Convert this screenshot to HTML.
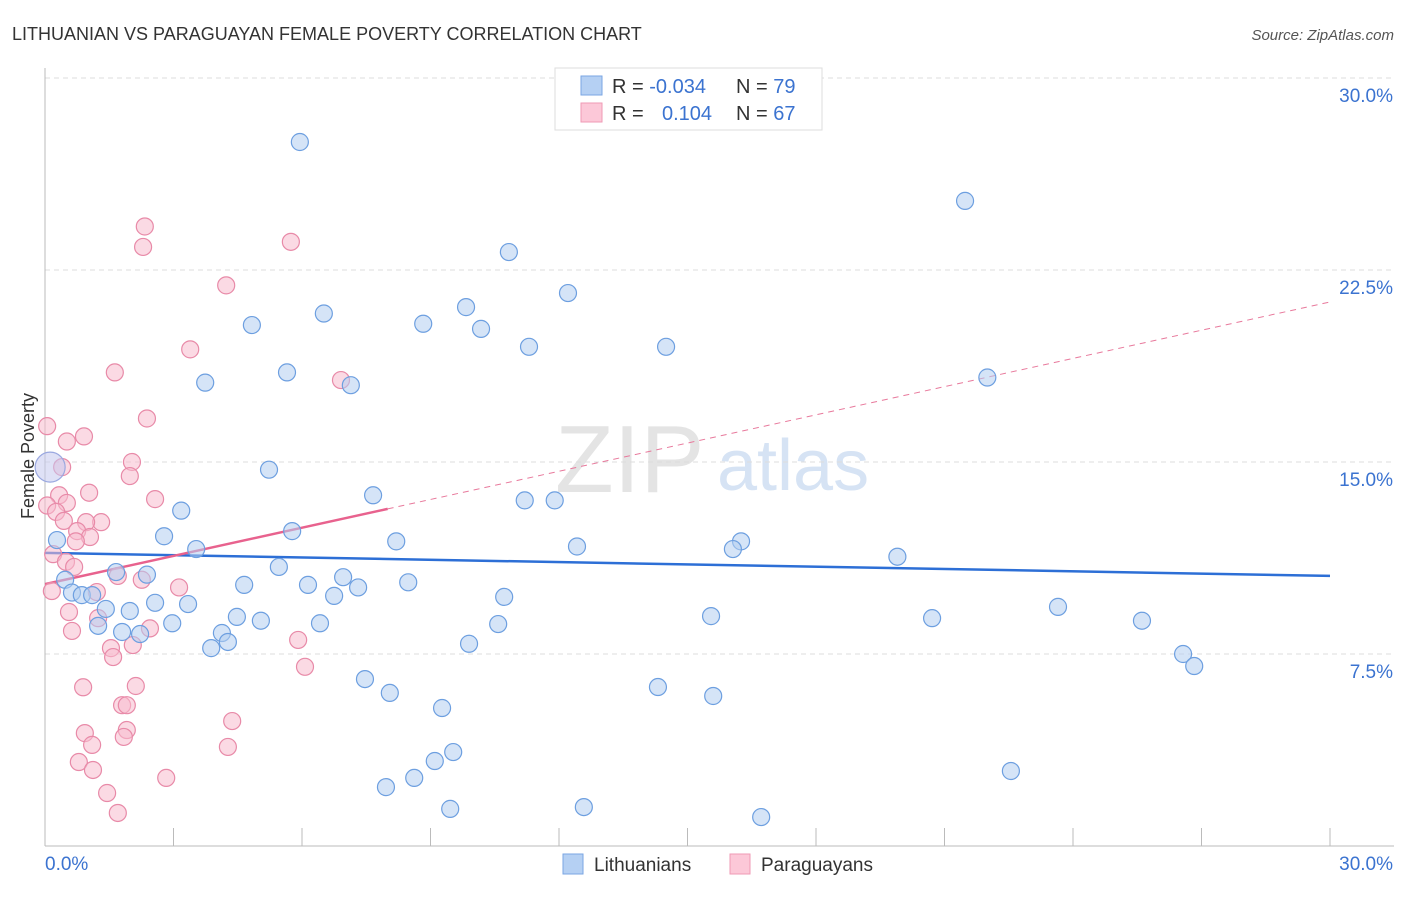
<!DOCTYPE html>
<html><head><meta charset="utf-8"><style>
body{margin:0;background:#fff;font-family:"Liberation Sans",sans-serif;}
svg text{font-family:"Liberation Sans",sans-serif;}
</style></head><body>
<svg id="chart" width="1406" height="892" xmlns="http://www.w3.org/2000/svg">
<text x="12" y="40" font-size="18" fill="#333">LITHUANIAN VS PARAGUAYAN FEMALE POVERTY CORRELATION CHART</text>
<text x="1394" y="40" font-size="15" fill="#555" font-style="italic" text-anchor="end">Source: ZipAtlas.com</text>
<g>
<text x="555" y="492" font-size="96" fill="#e4e4e4" font-family="Liberation Serif">ZIP</text>
<text x="717" y="490" font-size="72" fill="#d6e3f4">atlas</text>
</g>
<g id="grid"></g>
<g id="axes"></g>
<g id="trends"></g>
<g id="points"></g>
<text transform="translate(34,456) rotate(-90)" font-size="18" fill="#333" text-anchor="middle">Female Poverty</text>
<g>
<rect x="555" y="68" width="267" height="62" fill="#fff" stroke="#ddd"/>
<rect x="581" y="76" width="21" height="19" fill="#b5d0f3" stroke="#7aa6e3"/>
<rect x="581" y="103" width="21" height="19" fill="#fcc8d8" stroke="#ef9ab5"/>
<text x="612" y="93" font-size="20" fill="#333">R = <tspan fill="#3b73d0">-0.034</tspan></text>
<text x="736" y="93" font-size="20" fill="#333">N = <tspan fill="#3b73d0">79</tspan></text>
<text x="612" y="120" font-size="20" fill="#333">R = </text>
<text x="662" y="120" font-size="20" fill="#3b73d0">0.104</text>
<text x="736" y="120" font-size="20" fill="#333">N = <tspan fill="#3b73d0">67</tspan></text>
</g>
<g>
<rect x="563" y="854" width="20" height="20" fill="#b5d0f3" stroke="#7aa6e3"/>
<text x="594" y="871" font-size="19" fill="#333">Lithuanians</text>
<rect x="730" y="854" width="20" height="20" fill="#fcc8d8" stroke="#ef9ab5"/>
<text x="761" y="871" font-size="19" fill="#333">Paraguayans</text>
</g>
</svg>
<script>
const yTicks=[7.5,15,22.5,30];
const yTickLabels=["7.5%","15.0%","22.5%","30.0%"];
const xTicks=[0,3,6,9,12,15,18,21,24,27,30];
const blueX=[5.95,21.48,10.83,12.21,4.83,6.51,8.83,9.83,10.18,11.3,14.5,3.74,5.65,7.14,22.0,5.23,7.66,11.2,11.9,3.18,5.77,2.78,3.53,8.2,12.42,16.25,16.06,19.9,5.46,1.66,2.38,6.96,4.65,6.14,7.31,8.48,0.47,0.63,0.86,1.1,2.57,3.34,1.42,1.98,6.75,10.72,4.48,5.04,2.97,1.24,6.42,10.58,15.55,20.71,23.65,25.61,1.8,2.22,4.13,4.27,3.88,9.9,7.47,8.05,14.31,15.6,9.27,26.57,26.83,9.53,9.1,8.62,7.96,12.58,9.46,16.72,22.55,0.28];
const blueY=[27.5,25.2,23.2,21.6,20.35,20.8,20.4,21.05,20.2,19.5,19.5,18.1,18.5,18.0,18.3,14.7,13.7,13.5,13.5,13.1,12.3,12.1,11.6,11.9,11.7,11.9,11.6,11.3,10.9,10.7,10.6,10.5,10.2,10.2,10.1,10.3,10.4,9.9,9.8,9.8,9.5,9.45,9.26,9.18,9.77,9.73,8.95,8.8,8.7,8.6,8.7,8.67,8.98,8.9,9.34,8.8,8.36,8.28,8.32,7.97,7.73,7.9,6.52,5.98,6.21,5.86,5.39,7.5,7.03,3.67,3.32,2.66,2.3,1.52,1.45,1.13,2.93,11.95];
const pinkX=[2.33,2.29,5.74,4.23,3.39,1.63,6.91,2.38,0.05,0.91,0.51,0.4,2.03,1.98,1.03,2.57,0.33,0.05,0.51,0.26,0.44,1.31,0.96,0.75,1.05,0.72,0.19,0.49,0.68,1.7,2.26,3.13,0.16,1.21,0.56,1.24,2.45,0.63,5.91,2.05,1.54,1.59,6.07,0.89,2.12,1.8,1.91,4.37,0.93,1.91,1.84,1.1,4.27,0.79,1.12,2.83,1.45,1.7];
const pinkY=[24.2,23.4,23.6,21.9,19.4,18.5,18.2,16.7,16.4,16.0,15.8,14.8,15.0,14.45,13.8,13.55,13.7,13.3,13.4,13.05,12.7,12.65,12.65,12.3,12.07,11.9,11.4,11.1,10.9,10.55,10.4,10.1,9.96,9.92,9.14,8.9,8.5,8.4,8.05,7.85,7.73,7.38,7.0,6.2,6.25,5.5,5.5,4.88,4.41,4.53,4.26,3.95,3.87,3.28,2.97,2.66,2.07,1.29];
const bigX=[0.12], bigY=[14.8];
const blueTrend=[11.45,10.55];      // y at x=0, x=30
const pinkTrend=[10.23,21.25];      // y at x=0, x=30
const pinkSolidEnd=8.0;

const NS="http://www.w3.org/2000/svg";
const X0=45,X1=1330,Y0=846,Y1=78;
const sx=v=>X0+(v/30)*(X1-X0);
const sy=v=>Y0-(v/30)*(Y0-Y1);
function mk(tag,attrs,parent){const e=document.createElementNS(NS,tag);for(const k in attrs)e.setAttribute(k,attrs[k]);parent.appendChild(e);return e;}
const grid=document.getElementById('grid'),axes=document.getElementById('axes'),trends=document.getElementById('trends'),pts=document.getElementById('points');
yTicks.forEach((t,i)=>{
 const l=mk('line',{x1:X0,x2:1394,y1:sy(t),y2:sy(t),stroke:'#ddd','stroke-dasharray':'5,4'},grid);
 
 
 const tx=mk('text',{x:1393,y:sy(t)+24,'font-size':19,fill:'#3b73d0','text-anchor':'end'},grid);
 tx.textContent=yTickLabels[i];
 
 
});
const xa=mk('line',{x1:X0,x2:1394,y1:Y0,y2:Y0,stroke:'#bbb'},axes);


const ya=mk('line',{x1:X0,x2:X0,y1:68,y2:Y0,stroke:'#bbb'},axes);


xTicks.forEach(t=>{
 const l=mk('line',{x1:sx(t),x2:sx(t),y1:828,y2:Y0,stroke:'#bbb'},axes);
 
 
});
const xl0=mk('text',{x:45,y:870,'font-size':19,fill:'#3b73d0'},axes);xl0.textContent='0.0%';


const xl1=mk('text',{x:1393,y:870,'font-size':19,fill:'#3b73d0','text-anchor':'end'},axes);xl1.textContent='30.0%';



function drawPts(xs,ys,fill,stroke,name,r){
 xs.forEach((x,i)=>{
  const c=mk('circle',{cx:sx(x),cy:sy(ys[i]),r:r,fill:fill,'fill-opacity':0.55,stroke:stroke,'stroke-width':1.2},pts);
  
  
 });
}
drawPts(pinkX,pinkY,'#f8bccd','#e88aa8','paraguayan-point',8.5);
drawPts(blueX,blueY,'#b3cef0','#6d9fe0','lithuanian-point',8.5);
drawPts(bigX,bigY,'#c5c8ee','#9aa8e0','large-point',15);

const bt=mk('line',{x1:sx(0),y1:sy(blueTrend[0]),x2:sx(30),y2:sy(blueTrend[1]),stroke:'#2d6fd6','stroke-width':2.5},trends);


const py=x=>pinkTrend[0]+(pinkTrend[1]-pinkTrend[0])*x/30;
const pd=mk('line',{x1:sx(pinkSolidEnd),y1:sy(py(pinkSolidEnd)),x2:sx(30),y2:sy(py(30)),stroke:'#e8799c','stroke-width':1,'stroke-dasharray':'6,5'},trends);


const ps=mk('line',{x1:sx(0),y1:sy(py(0)),x2:sx(pinkSolidEnd),y2:sy(py(pinkSolidEnd)),stroke:'#e8628e','stroke-width':2.5},trends);


</script>
</body></html>
